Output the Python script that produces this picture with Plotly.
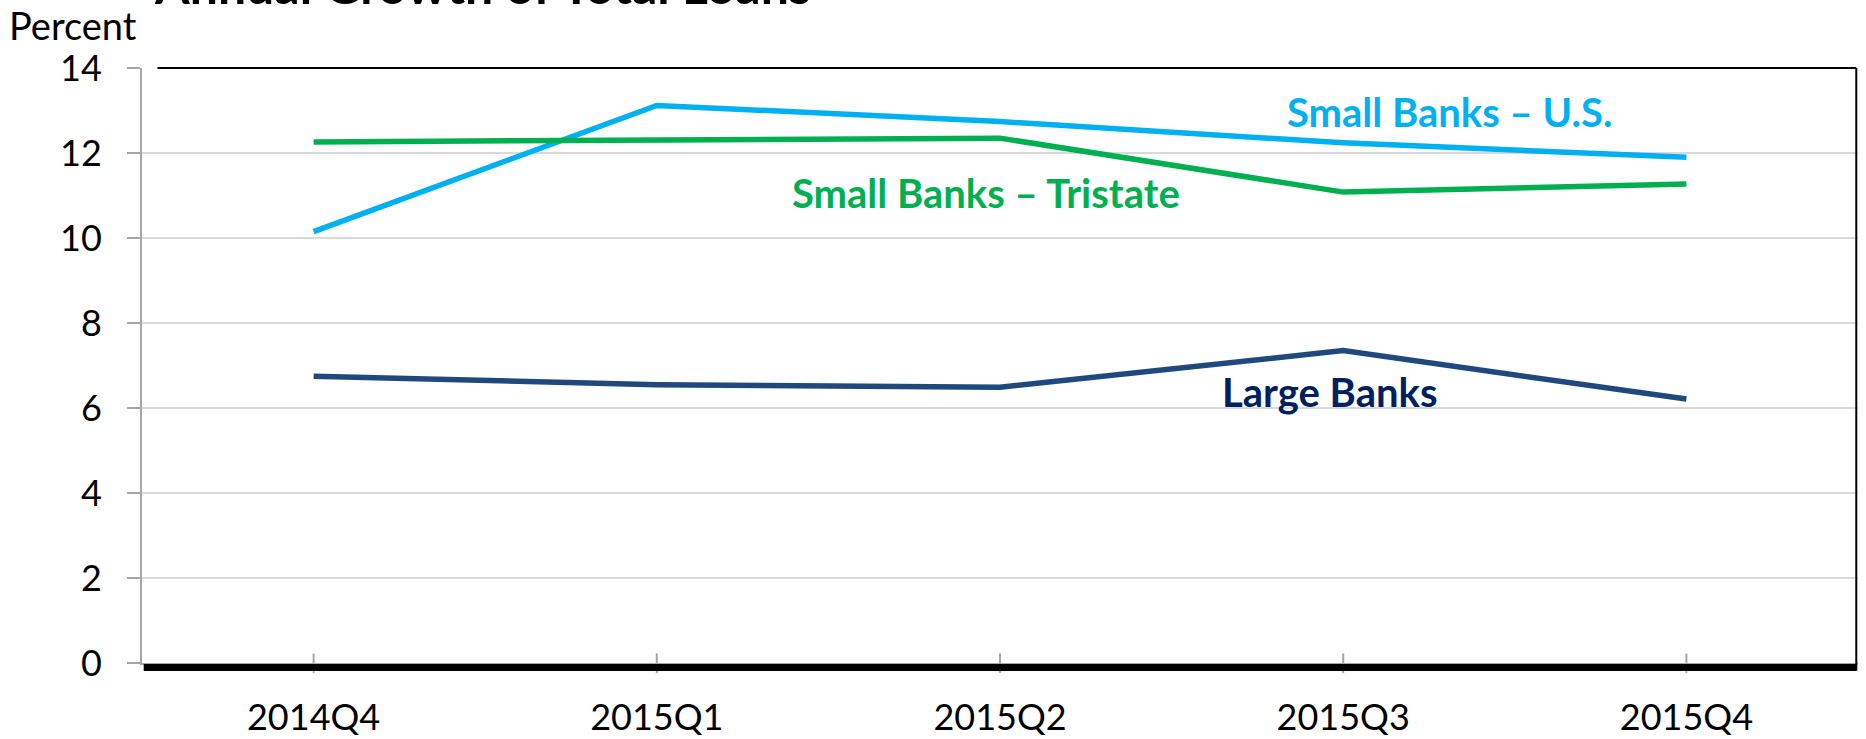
import plotly.graph_objects as go

categories = ["2014Q4", "2015Q1", "2015Q2", "2015Q3", "2015Q4"]
small_us = [10.15, 13.12, 12.74, 12.24, 11.90]
small_tristate = [12.26, 12.30, 12.35, 11.08, 11.27]
large_banks = [6.75, 6.55, 6.49, 7.35, 6.21]
y_ticks = [0, 2, 4, 6, 8, 10, 12, 14]

FONT = "Lato"
C_US = "#00B0F0"
C_TRI = "#00B050"
C_LARGE = "#1F497D"
C_LARGE_TXT = "#002060"

fig = go.Figure()
for vals, col, name in [(small_us, C_US, "Small Banks – U.S."),
                        (small_tristate, C_TRI, "Small Banks – Tristate"),
                        (large_banks, C_LARGE, "Large Banks")]:
    fig.add_trace(go.Scatter(x=categories, y=vals, mode="lines", name=name,
                             line=dict(color=col, width=5.5)))

fig.update_layout(
    width=1866, height=739,
    margin=dict(l=142, r=8, t=68, b=76, autoexpand=False),
    plot_bgcolor="white", paper_bgcolor="white",
    showlegend=False,
    font=dict(family=FONT, color="black", size=36),
)
fig.update_xaxes(
    type="category", categoryorder="array", categoryarray=categories, automargin=False,
    range=[-0.5, 4.5], showgrid=False, showline=True, linecolor="#A6A6A6", linewidth=2,
    ticks="", tickfont=dict(size=36, family=FONT), ticklabelstandoff=22,
)
fig.update_yaxes(
    range=[0, 14], tickvals=y_ticks, showgrid=True, gridcolor="#D9D9D9", gridwidth=2,
    showline=True, linecolor="#A6A6A6", linewidth=2, ticks="outside", ticklen=13,
    tickcolor="#A6A6A6", tickwidth=2, tickfont=dict(size=36, family=FONT),
    ticklabelstandoff=18, zeroline=False, automargin=False,
)

# x ticks crossing the axis
for i, c in enumerate(categories):
    fig.add_shape(type="line", xref="x", yref="paper", x0=i, x1=i, y0=0.016, y1=-0.017,
                  line=dict(color="#A6A6A6", width=2))
# thick black base bar, top and right borders
fig.add_shape(type="line", xref="paper", yref="paper", x0=0.001, x1=0.999, y0=-0.0076, y1=-0.0076,
              line=dict(color="black", width=7))
fig.add_shape(type="line", xref="paper", yref="paper", x0=0.009, x1=0.999, y0=1, y1=1,
              line=dict(color="black", width=2))
fig.add_shape(type="line", xref="paper", yref="paper", x0=0.999, x1=0.999, y0=1, y1=-0.013,
              line=dict(color="black", width=2))

fig.add_annotation(text="Percent", xref="paper", yref="paper", x=-0.0785, y=1.072,
                   xanchor="left", yanchor="middle", showarrow=False,
                   font=dict(size=38, family=FONT, color="black"))
fig.add_annotation(text="<b>Annual Growth of Total Loans</b>", xref="paper", yref="paper",
                   x=(482 - 142) / 1716, y=1.14, xanchor="center", yanchor="middle",
                   showarrow=False, font=dict(size=50, family=FONT, color="black"))

fig.add_annotation(text="<b>Small Banks – U.S.</b>", x=3.31, y=12.96, xref="x", yref="y",
                   showarrow=False, font=dict(size=40, family=FONT, color=C_US))
fig.add_annotation(text="<b>Small Banks – Tristate</b>", x=1.96, y=11.07, xref="x", yref="y",
                   showarrow=False, font=dict(size=40, family=FONT, color=C_TRI))
fig.add_annotation(text="<b>Large Banks</b>", x=2.96, y=6.38, xref="x", yref="y",
                   showarrow=False, font=dict(size=40, family=FONT, color=C_LARGE_TXT))

fig.write_html("out.html")
